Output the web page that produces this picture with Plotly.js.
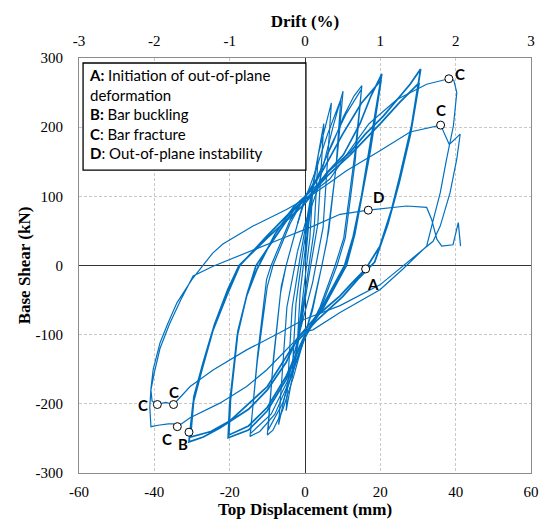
<!DOCTYPE html>
<html>
<head>
<meta charset="utf-8">
<script src="https://cdn.plot.ly/plotly-3.0.1.min.js"></script>
<style>html,body{margin:0;padding:0;background:#fff;}#chart{width:547px;height:522px;}</style>
</head>
<body>
<div id="chart"></div>
<script>
// ---- data: top displacement (mm) and base shear (kN) ----
const smallDisp = [0, 1, 2, 1.3, 0.3, -1, -2, -1.3, -0.3, 1.5, 3.5, 2.4, 0.8, -1.5, -3.5, -2.4, -0.8, 2.5, 5, 3.4, 1.2, -2.5, -5, -3.4, -1.2, 3.5, 7, 4.8, 2, -3, -7, -4.8, -2];
const smallShear = [0, 60, 105, 40, -5, -65, -110, -40, 5, 90, 160, 50, -10, -95, -165, -55, 10, 130, 205, 60, -10, -135, -210, -60, 15, 160, 235, 55, -25, -130, -230, -60, 20];

const lvl10Disp = [-2, 0, 3.1, 5.5, 7.5, 10.1, 8.6, 6.3, 4.5, 2, 0, -3, -6, -8.5, -10, -8.6, -6.5, -5, -2, 0, 3, 6, 9.5, 8.2, 5.8, 4.5, 2, 0, -3, -6, -9.8, -8.4, -6.3, -5, -2];
const lvl10Shear = [20, 60, 106, 160, 202, 252, 160, 50, 0, -60, -100, -160, -210, -238, -245, -150, -40, 0, 60, 95, 140, 190, 240, 140, 35, 0, -65, -100, -150, -200, -238, -135, -30, 0, 60];

const lvl15Disp = [-2, 0, 3, 7.5, 10.2, 13, 15.1, 13.2, 10.3, 8, 4, 0, -4, -8, -12, -14.6, -12.7, -10, -8.5, -4, 0, 3, 7, 11, 15, 13.3, 10.7, 8.5, 4, 0, -4, -9, -14.5, -12.6, -10.2, -9, -4];
const lvl15Shear = [60, 100, 125, 178, 215, 245, 260, 160, 40, 0, -60, -105, -165, -215, -240, -247, -140, -30, 0, 60, 100, 122, 175, 220, 255, 150, 40, 0, -65, -105, -160, -215, -243, -130, -20, 0, 65];

const lvl20Disp = [-4, 0, 3, 6, 10.2, 14.6, 17.5, 20.4, 17.5, 15, 12.8, 10.5, 5, 0, -5, -10, -15, -20.4, -20, -19, -18, -15.5, -12.8, -8, -3, 1, 5, 10, 15, 20.2, 17.3, 13.2, 11, 5, 0, -5, -10, -15, -20.2, -19.8, -18.8, -17.8, -15.3, -13, -8, -3, 1];
const lvl20Shear = [65, 100, 115, 135, 160, 205, 245, 277, 182, 100, 42, 0, -55, -100, -165, -210, -238, -249, -200, -150, -102, -44, -6, 45, 85, 105, 140, 190, 235, 268, 165, 45, 0, -60, -100, -160, -205, -232, -245, -195, -145, -95, -40, 0, 40, 80, 100];

const lvl30Disp = [1, 3, 6, 12, 16, 20.8, 24.5, 27.9, 30.7, 28.3, 25.2, 23, 19.9, 16.1, 12.5, 9.3, 3.1, -2, -5, -10, -15, -22.6, -27, -30.8, -29.7, -27.4, -24.4, -20.8, -17.3, -10.2, -3, 1, 6, 12, 20, 25, 30.3, 28, 25, 22, 18.5, 14, 10, 3, -3, -10, -20, -25, -30.4, -29.5, -27, -24, -20.5, -17.5, -10, -0.3, 3];
const lvl30Shear = [100, 112, 135, 164, 190, 216, 240, 262, 284, 202, 129, 81, 28, -5, -25, -44, -73, -105, -140, -180, -208, -235, -248, -255, -199, -151, -93, -44, 0, 42, 82, 100, 130, 160, 205, 235, 264, 190, 120, 60, 5, -20, -45, -80, -115, -175, -225, -240, -248, -190, -140, -85, -35, 0, 40, 88, 110];

const lvl40Disp = [3, 6.6, 11, 17, 24.4, 32.3, 38.2, 39.5, 40.3, 39.4, 37.6, 35.9, 34.1, 32.3, 26, 19.9, 9.3, 2.1, -0.3, -4.9, -10.2, -15.5, -22.6, -30.5, -33.9, -35, -36.3, -39, -40.9, -41.2, -40.9, -40.3, -38.5, -36.5, -34, -30, -27, -24.5, -21.8, -13.8, -4.9, 1.3, 6.6, 11, 19.9, 27.9, 36, 37, 37.6, 38.3, 41.2, 40.3, 38.5, 35.9, 34, 28, 19.9, 9.3, 2, -0.3, -6.6, -15.5, -24.4, -30.5, -34.9, -37, -39.2, -40.6, -40.9, -40, -38.5, -36, -33, -29.7, -24.4, -15.5, -6.6, 2.2, 9.3, 16.8, 22, 27, 32.3, 33.6, 35, 36.3, 39.3, 40.7, 41.3];
const lvl40Shear = [110, 125, 160, 205, 240, 262, 270, 268, 250, 202, 154, 105, 67, 28, -5, -35, -68, -93, -96, -122, -151, -175, -199, -220, -233, -229, -229, -231, -233, -205, -178, -150, -112, -85, -54, -20, 0, 18, 31, 57, 81, 100, 120, 137, 166, 193, 203, 190, 183, 175, 190, 154, 105, 57, 35, 8, -28, -58, -73, -78, -97, -122, -151, -175, -201, -198, -201, -196, -180, -155, -120, -85, -50, -15, -1, 19, 38, 57, 74, 80, 83, 86, 84, 67, 38, 28, 30, 62, 28];

const eventDisp = [38.2, 36.0, 16.8, 16.1, -39.2, -34.9, -33.9, -30.8];
const eventShear = [270, 203, 80, -5, -201, -201, -233, -241];
const eventLabels = ['C', 'C', 'D', 'A', 'C', 'C', 'C', 'B'];

const dispTicks = [-60, -40, -20, 0, 20, 40, 60];
const dispTickText = ['-60', '-40', '-20', '0', '20', '40', '60'];
const driftTicks = [-3, -2, -1, 0, 1, 2, 3];
const driftTickText = ['-3', '-2', '-1', '0', '1', '2', '3'];
const shearTicks = [-300, -200, -100, 0, 100, 200, 300];
const shearTickText = ['-300', '-200', '-100', '0', '100', '200', '300'];

// ---- styling ----
const BLUE = '#0070C0';
const serif = 'Liberation Serif, Times New Roman, serif';
const sans = 'Lato, Carlito, Open Sans, sans-serif';
const loopWidths = [1.2, 1.2, 1.2, 1.7, 1.8, 1.2];

const loops = [
  [smallDisp, smallShear], [lvl10Disp, lvl10Shear], [lvl15Disp, lvl15Shear],
  [lvl20Disp, lvl20Shear], [lvl30Disp, lvl30Shear], [lvl40Disp, lvl40Shear]
];
const traces = loops.map(([x, y], i) => ({
  x: x, y: y, type: 'scatter', mode: 'lines', line: {color: BLUE, width: loopWidths[i]},
  hoverinfo: 'skip', showlegend: false
}));
traces.push({
  x: eventDisp, y: eventShear, type: 'scatter', mode: 'markers', showlegend: false,
  marker: {symbol: 'circle', size: 8, color: '#ffffff', line: {color: '#000000', width: 1}}
});
traces.push({
  x: driftTicks, y: driftTicks.map(() => null), xaxis: 'x2', type: 'scatter', mode: 'markers',
  marker: {opacity: 0}, showlegend: false, hoverinfo: 'skip'
});

// label offsets (pixels) around each marker
const labelShift = [[11, 5], [0, 15], [10, 13], [7, -15], [-14, 0], [0, 13], [-10, -12], [-6, -12]];
const annotations = eventLabels.map((t, i) => ({
  x: eventDisp[i], y: eventShear[i], xref: 'x', yref: 'y', text: '<b>' + t + '</b>',
  showarrow: false, xshift: labelShift[i][0], yshift: labelShift[i][1],
  font: {family: sans, size: 15, color: '#000'}
}));
annotations.push({
  xref: 'paper', yref: 'paper', x: 0.018, y: 0.985, xanchor: 'left', yanchor: 'top',
  align: 'left', showarrow: false,
  text: '<b>A:</b> Initiation of out-of-plane<br>deformation<br><b>B:</b> Bar buckling<br><b>C</b>: Bar fracture<br><b>D</b>: Out-of-plane instability',
  font: {family: sans, size: 15, color: '#000'}
});

const layout = {
  width: 547, height: 522,
  margin: {l: 79, r: 16, t: 58, b: 49},
  paper_bgcolor: '#fff', plot_bgcolor: '#fff',
  showlegend: false,
  xaxis: {
    range: [-60, 60], tickvals: dispTicks, ticktext: dispTickText,
    showgrid: true, gridcolor: '#c8c8c8', griddash: '3px,2px', gridwidth: 1,
    zeroline: true, zerolinecolor: '#333', zerolinewidth: 1,
    showline: true, linecolor: '#8c8c8c', linewidth: 1, mirror: true,
    ticks: 'outside', ticklen: 5, tickcolor: 'rgba(0,0,0,0)',
    tickfont: {family: serif, size: 15, color: '#000'},
    title: {text: '<b>Top Displacement (mm)</b>', font: {family: serif, size: 17, color: '#000'}, standoff: 3}
  },
  xaxis2: {
    overlaying: 'x', side: 'top', range: [-3, 3], tickvals: driftTicks, ticktext: driftTickText,
    showgrid: false, zeroline: false, showline: false,
    ticks: 'outside', ticklen: 5, tickcolor: 'rgba(0,0,0,0)',
    tickfont: {family: serif, size: 15, color: '#000'},
    title: {text: '<b>Drift (%)</b>', font: {family: serif, size: 17, color: '#000'}, standoff: 1}
  },
  yaxis: {
    range: [-300, 300], tickvals: shearTicks, ticktext: shearTickText,
    showgrid: true, gridcolor: '#c8c8c8', griddash: '3px,2px', gridwidth: 1,
    zeroline: true, zerolinecolor: '#333', zerolinewidth: 1,
    showline: true, linecolor: '#8c8c8c', linewidth: 1, mirror: true,
    ticks: 'outside', ticklen: 12, tickcolor: 'rgba(0,0,0,0)',
    tickfont: {family: serif, size: 15, color: '#000'},
    title: {text: '<b>Base Shear (kN)</b>', font: {family: serif, size: 17, color: '#000'}, standoff: 0}
  },
  shapes: [{
    type: 'rect', xref: 'paper', yref: 'paper',
    x0: 0.009, x1: 0.502, y0: 0.730, y1: 0.988,
    line: {color: '#000', width: 1.3}, fillcolor: '#fff', layer: 'above'
  }],
  annotations: annotations
};

Plotly.newPlot('chart', traces, layout, {displayModeBar: false, staticPlot: true});
</script>
</body>
</html>
